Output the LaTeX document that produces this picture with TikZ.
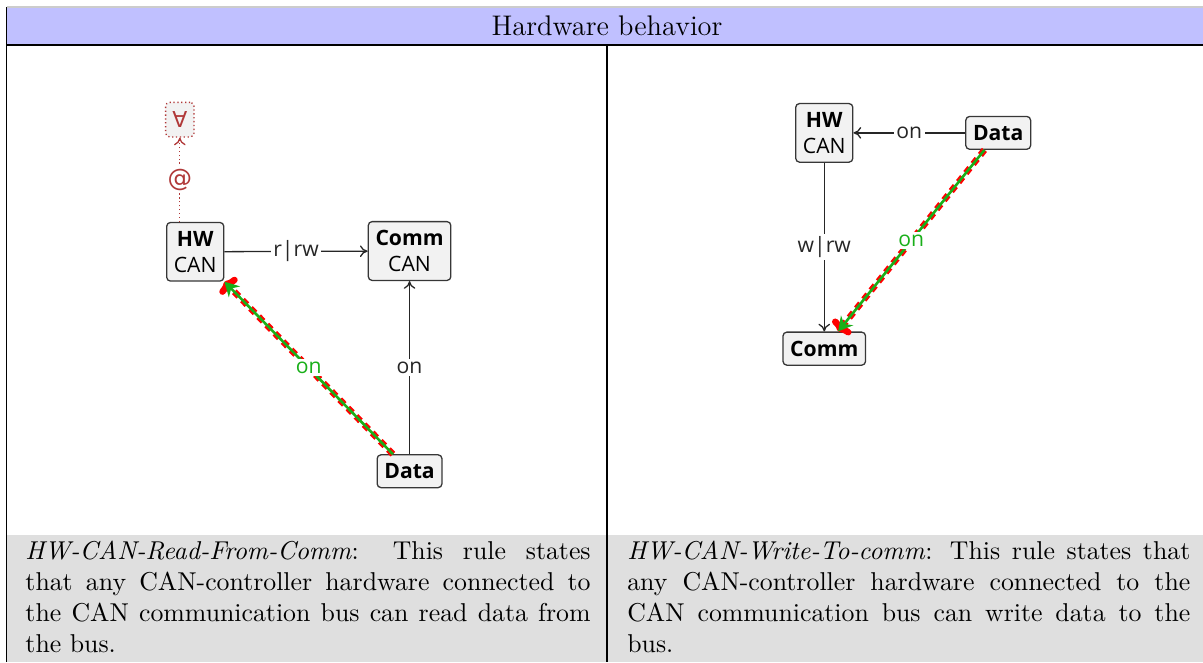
\documentclass[tikz,border=0pt]{standalone}
\usepackage{fontspec}
\newfontfamily\grfont{Open Sans}
\newfontfamily\symfont{DejaVu Sans}
\usetikzlibrary{arrows.meta}

\definecolor{headblue}{RGB}{192,192,255}
\definecolor{cellgray}{RGB}{223,223,223}
\definecolor{boxfill}{RGB}{242,242,242}
\definecolor{boxline}{RGB}{55,55,55}
\definecolor{quantred}{RGB}{176,56,56}
\definecolor{ongreen}{RGB}{25,175,25}

\tikzset{
  gnode/.style={draw=boxline,fill=boxfill,rounded corners=1.5pt,line width=0.5pt,
    align=center,inner xsep=2.8pt,inner ysep=3.4pt,
    font=\grfont\fontsize{8.2}{10}\selectfont},
  qnode/.style={draw=quantred,dash pattern=on 0.5pt off 1pt,fill=boxfill,
    rounded corners=1.5pt,line width=0.5pt,
    text=quantred,inner xsep=2.6pt,inner ysep=3.6pt,
    font=\symfont\fontsize{8.5}{10}\selectfont},
  glabel/.style={fill=white,inner sep=1pt,font=\grfont\fontsize{8.2}{10}\selectfont},
  gedge/.style={-{To[length=3pt,width=4.5pt]},line width=0.5pt,black!85},
  nestedge/.style={-{To[length=3pt,width=4.5pt]},dash pattern=on 0.5pt off 1pt,
    line width=0.5pt,quantred},
  hlred/.style={red,line width=2.5pt,dash pattern=on 2.5pt off 2pt,
    -{To[length=3.5pt,width=9pt,round]}},
  hlgreen/.style={ongreen,line width=1pt,-{Stealth[length=5.5pt,width=6pt]}},
  celltext/.style={text width=7.7cm,align=justify,inner sep=0pt,anchor=north west}
}

\begin{document}
\begin{tikzpicture}
\useasboundingbox (0,0) rectangle (16.39,-9.02);

%% table
  \fill[headblue] (0.095,-0.095) rectangle (16.39,-0.613);
  \fill[cellgray] (0.095,-7.29) rectangle (16.39,-9.02);
  \draw[gray!40] (0.095,-0.095) -- (16.39,-0.095);
  \draw[line width=0.6pt] (0.095,-0.613) -- (16.39,-0.613);
  \draw (0.095,-0.095) -- (0.095,-9.02);
  \draw (8.27,-0.613) -- (8.27,-9.02);
  \node[font=\fontsize{11}{13}\selectfont] (head) at (8.27,-0.354) {Hardware behavior};

%% left rule
  \node[gnode] (hwL) at (2.66,-3.43) {\textbf{HW}\\CAN};
  \node[gnode] (commL) at (5.58,-3.42) {\textbf{Comm}\\CAN};
  \node[gnode] (dataL) at (5.58,-6.42) {\textbf{Data}};
  \node[qnode] (allL) at (2.45,-1.63) {∀};

  \draw[nestedge] (hwL.north -| allL) -- node[glabel,text=quantred,font=\symfont\fontsize{9.5}{10}\selectfont] {@} (allL);
  \draw[gedge] (hwL) -- node[glabel] {r|rw} (commL);
  \draw[gedge] (dataL) -- node[glabel] {on} (commL);
  \draw[hlred] (dataL) -- (hwL);
  \draw[hlgreen] (dataL) -- node[glabel,text=ongreen] {on} (hwL);

%% right rule
  \node[gnode] (hwR) at (11.23,-1.81) {\textbf{HW}\\CAN};
  \node[gnode] (dataR) at (13.60,-1.81) {\textbf{Data}};
  \node[gnode] (commR) at (11.23,-4.75) {\textbf{Comm}};

  \draw[gedge] (dataR) -- node[glabel] {on} (hwR);
  \draw[gedge] (hwR) -- node[glabel] {w|rw} (commR);
  \draw[hlred] (dataR) -- (commR);
  \draw[hlgreen] (dataR) -- node[glabel,text=ongreen] {on} (commR);

%% descriptions
  \node[celltext] (descL) at (0.34,-7.37) {\textit{HW-CAN-Read-From-Comm}: This rule states
    that any CAN-controller hardware connected to the CAN communication bus can read data
    from the bus.};
  \node[celltext,text width=7.67cm] (descR) at (8.54,-7.37) {\textit{HW-CAN-Write-To-comm}:
    This rule states that any CAN-controller hardware connected to the CAN communication
    bus can write data to the bus.};
\end{tikzpicture}
\end{document}
